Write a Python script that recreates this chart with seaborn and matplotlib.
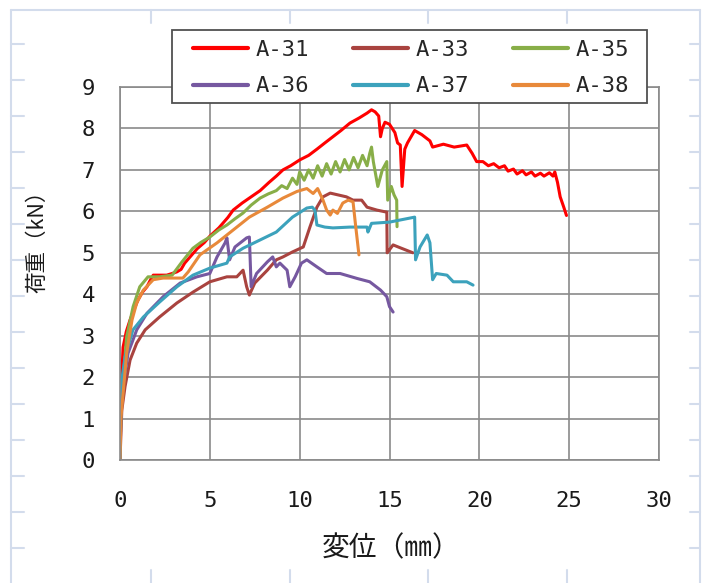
import numpy as np
import pandas as pd
import matplotlib
matplotlib.use("Agg")
import matplotlib.pyplot as plt
from matplotlib.lines import Line2D
from matplotlib.patches import Rectangle
import seaborn as sns

series_names = ["A-31", "A-33", "A-35", "A-36", "A-37", "A-38"]
colors = ["#FF0000", "#A9433F", "#88AE48", "#7658A0", "#3CA2BC", "#E8893A"]

a31_x = [0, 0.05, 0.17, 0.35, 0.56, 0.8, 1.0, 1.25, 1.5, 1.7, 1.85, 2.2, 2.6, 2.9, 3.17, 3.4, 3.6, 3.9,
         4.3, 4.7, 5.0, 5.5, 6.0, 6.3, 6.8, 7.3, 7.8, 8.3, 8.7, 9.07, 9.5, 10.0, 10.5, 10.96, 11.4, 11.85,
         12.3, 12.8, 13.3, 13.75, 14.0, 14.2, 14.4, 14.5, 14.6, 14.75, 15.0, 15.3, 15.45, 15.6, 15.7, 15.85,
         16.0, 16.4, 16.8, 17.25, 17.4, 18.0, 18.6, 19.3, 19.6, 19.85, 20.2, 20.5, 20.8, 21.1, 21.4, 21.6,
         21.9, 22.1, 22.4, 22.6, 22.9, 23.1, 23.4, 23.6, 23.9, 24.1, 24.2, 24.35, 24.5, 24.7, 24.85]
a31_y = [0, 1.5, 2.72, 3.1, 3.38, 3.65, 3.86, 4.05, 4.18, 4.35, 4.46, 4.46, 4.46, 4.5, 4.54, 4.6, 4.75, 4.9,
         5.1, 5.25, 5.4, 5.6, 5.85, 6.03, 6.2, 6.35, 6.5, 6.7, 6.85, 7.0, 7.1, 7.24, 7.35, 7.5, 7.65, 7.8,
         7.95, 8.13, 8.25, 8.37, 8.45, 8.4, 8.3, 7.8, 8.0, 8.15, 8.1, 7.9, 7.65, 7.6, 6.6, 7.5,
         7.65, 7.95, 7.85, 7.7, 7.55, 7.62, 7.55, 7.6, 7.4, 7.2, 7.2, 7.1, 7.15, 7.05, 7.1, 6.97,
         7.02, 6.9, 6.98, 6.88, 6.95, 6.85, 6.92, 6.85, 6.93, 6.85, 6.95, 6.7, 6.35, 6.1, 5.9]

a33_x = [0, 0.1, 0.28, 0.56, 0.93, 1.4, 2.2, 3.17, 4.06, 5.0, 5.95, 6.5, 6.85, 7.05, 7.2, 7.5, 8.2, 8.7,
         9.07, 9.6, 10.2, 10.57, 10.96, 11.3, 11.7, 12.6, 12.97, 13.45, 13.75, 14.3, 14.85, 14.87, 15.2,
         15.6, 16.3]
a33_y = [0, 1.2, 1.77, 2.41, 2.82, 3.14, 3.45, 3.79, 4.05, 4.3, 4.42, 4.42, 4.58, 4.18, 3.98, 4.27, 4.58,
         4.83, 4.9, 5.02, 5.14, 5.62, 6.1, 6.35, 6.44, 6.35, 6.27, 6.27, 6.1, 6.03, 5.98, 5.0, 5.19, 5.12, 5.0]

a35_x = [0, 0.05, 0.17, 0.37, 0.73, 1.1, 1.56, 2.2, 2.9, 3.45, 4.06, 4.5, 5.0, 5.5, 5.95, 6.4, 6.85, 7.3,
         7.8, 8.25, 8.7, 9.0, 9.3, 9.6, 9.85, 10.0, 10.25, 10.5, 10.75, 11.0, 11.25, 11.5, 11.75, 12.0,
         12.25, 12.5, 12.75, 13.0, 13.25, 13.5, 13.75, 13.9, 14.0, 14.1, 14.35, 14.6, 14.85, 14.9, 15.1,
         15.25, 15.4, 15.42]
a35_y = [0, 1.2, 1.93, 2.97, 3.7, 4.18, 4.42, 4.42, 4.46, 4.78, 5.11, 5.25, 5.38, 5.55, 5.67, 5.82, 5.96,
         6.15, 6.32, 6.42, 6.5, 6.62, 6.55, 6.8, 6.65, 6.95, 6.75, 7.0, 6.8, 7.1, 6.85, 7.15, 6.9, 7.2,
         6.95, 7.25, 7.0, 7.3, 7.05, 7.35, 7.1, 7.4, 7.55, 7.2, 6.6, 7.0, 7.2, 6.27, 6.6, 6.4, 6.27, 5.63]

a36_x = [0, 0.05, 0.17, 0.45, 0.93, 1.5, 2.4, 3.35, 4.28, 5.0, 5.4, 5.85, 5.95, 6.1, 6.4, 7.05, 7.2, 7.3,
         7.6, 8.2, 8.5, 8.7, 8.9, 9.3, 9.45, 9.75, 10.1, 10.4, 10.96, 11.5, 12.25, 13.2, 13.9, 14.5,
         14.85, 15.0, 15.2]
a36_y = [0, 1.1, 1.77, 2.58, 3.14, 3.54, 3.94, 4.27, 4.42, 4.5, 4.9, 5.24, 5.36, 4.83, 5.14, 5.36, 5.38,
         4.18, 4.5, 4.78, 4.9, 4.66, 4.75, 4.58, 4.18, 4.42, 4.75, 4.83, 4.66, 4.5, 4.5, 4.38, 4.3, 4.1,
         3.94, 3.7, 3.57]

a37_x = [0, 0.05, 0.1, 0.28, 0.72, 1.3, 2.2, 3.17, 4.06, 5.0, 5.95, 6.1, 6.85, 7.8, 8.7, 9.6, 10.4, 10.7,
         10.85, 10.96, 11.4, 11.85, 12.8, 13.75, 13.8, 14.0, 15.0, 16.4, 16.45, 16.7, 17.1, 17.25, 17.4,
         17.6, 18.2, 18.55, 19.3, 19.65]
a37_y = [0, 1.3, 1.93, 2.49, 3.14, 3.45, 3.81, 4.18, 4.46, 4.63, 4.75, 4.9, 5.11, 5.31, 5.5, 5.86, 6.08,
         6.1, 6.03, 5.67, 5.62, 5.6, 5.62, 5.62, 5.5, 5.71, 5.74, 5.86, 4.83, 5.14, 5.43, 5.24, 4.35, 4.5,
         4.46, 4.3, 4.3, 4.22]

a38_x = [0, 0.05, 0.17, 0.37, 0.67, 0.93, 1.3, 1.85, 2.4, 3.5, 3.8, 4.45, 5.4, 6.3, 7.2, 8.2, 9.07, 9.85,
         10.4, 10.75, 11.0, 11.3, 11.5, 11.7, 11.85, 12.1, 12.4, 12.7, 12.97, 13.1, 13.25, 13.3]
a38_y = [0, 1.0, 1.6, 2.58, 3.38, 3.79, 4.1, 4.35, 4.39, 4.39, 4.54, 4.95, 5.24, 5.55, 5.86, 6.1, 6.32,
         6.48, 6.55, 6.43, 6.55, 6.27, 6.03, 5.91, 6.03, 5.95, 6.2, 6.27, 6.23, 5.71, 5.14, 4.95]

x_ticks = [0, 5, 10, 15, 20, 25, 30]
y_ticks = [0, 1, 2, 3, 4, 5, 6, 7, 8, 9]
x_label = "変位（㎜）"
y_label = "荷重（kN）"

xs = [a31_x, a33_x, a35_x, a36_x, a37_x, a38_x]
ys = [a31_y, a33_y, a35_y, a36_y, a37_y, a38_y]
frames = []
for name, xv, yv in zip(series_names, xs, ys):
    d = pd.DataFrame({"disp": xv, "load": yv, "series": name})
    frames.append(d)
df = pd.concat(frames, ignore_index=True)

sns.set_theme(style="white")
plt.rcParams["font.family"] = ["DejaVu Sans Mono", "Noto Sans CJK JP"]

W, H = 706, 583
fig = plt.figure(figsize=(W / 100, H / 100), dpi=100)
fig.patch.set_facecolor("white")

# spreadsheet-like background frame
bg = "#D3DCEC"
def px_line(x0, y0, x1, y1):
    fig.add_artist(Line2D([x0 / W, x1 / W], [1 - y0 / H, 1 - y1 / H], transform=fig.transFigure,
                          color=bg, lw=1.5, zorder=0))
px_line(11, 10, 11, 583)
px_line(11, 10, 700, 10)
px_line(700, 10, 700, 583)
for yy in range(44, 583, 36):
    px_line(11, yy, 24, yy)
    px_line(690, yy, 700, yy)
for xx in [151, 290, 428, 567]:
    px_line(xx, 10, xx, 23)
    px_line(xx, 570, xx, 583)

ax = fig.add_axes([120 / W, 1 - 460 / H, 539 / W, 373 / H])
ax.set_facecolor("white")

palette = dict(zip(series_names, colors))
sns.lineplot(data=df, x="disp", y="load", hue="series", hue_order=series_names, palette=palette,
             units="series", estimator=None, sort=False, lw=2.2, ax=ax, legend=True)

ax.set_xlim(0, 30)
ax.set_ylim(0, 9)
ax.set_xticks(x_ticks)
ax.set_yticks(y_ticks)
ax.grid(True, color="#8A8A8A", lw=1.2)
ax.set_axisbelow(True)
for s in ax.spines.values():
    s.set_color("#8A8A8A")
    s.set_linewidth(1.2)
ax.tick_params(length=0, labelsize=16, colors="#1A1A1A")
ax.tick_params(axis="y", pad=18)
ax.tick_params(axis="x", pad=22)

ax.set_xlabel(x_label, fontsize=20, family=["Noto Sans CJK JP"], va="center", ha="center", color="#1A1A1A")
ax.set_ylabel(y_label, fontsize=15.5, family=["Noto Sans CJK JP"], va="center", ha="center", color="#1A1A1A")
ax.xaxis.set_label_coords((391 - 120) / 539, -(548 - 460) / 373)
ax.yaxis.set_label_coords((37 - 120) / 539, (460 - 236) / 373)

handles, labels = ax.get_legend_handles_labels()
ax.get_legend().remove()
# row-wise order for a 3-column, 2-row legend (matplotlib fills column by column)
order = [0, 3, 1, 4, 2, 5]
handles = [handles[i] for i in order]
labels = [labels[i] for i in order]

# legend box (white, covering the top of the plot area)
fig.add_artist(Rectangle((172 / W, 1 - 103 / H), 475 / W, 73 / H, transform=fig.transFigure,
                         facecolor="white", edgecolor="#505050", lw=1.3, zorder=4))
leg = fig.legend(handles, labels, ncol=3, loc="center left",
                 bbox_to_anchor=(193 / W, 1 - 68 / H), bbox_transform=fig.transFigure,
                 borderaxespad=0, borderpad=0, fontsize=16, handlelength=2.48, handletextpad=0.32,
                 columnspacing=2.0, labelspacing=0.75, frameon=False)
leg.set_zorder(6)
for lh in leg.get_lines():
    lh.set_linewidth(3)

fig.savefig("out.png", dpi=100, facecolor="white")
